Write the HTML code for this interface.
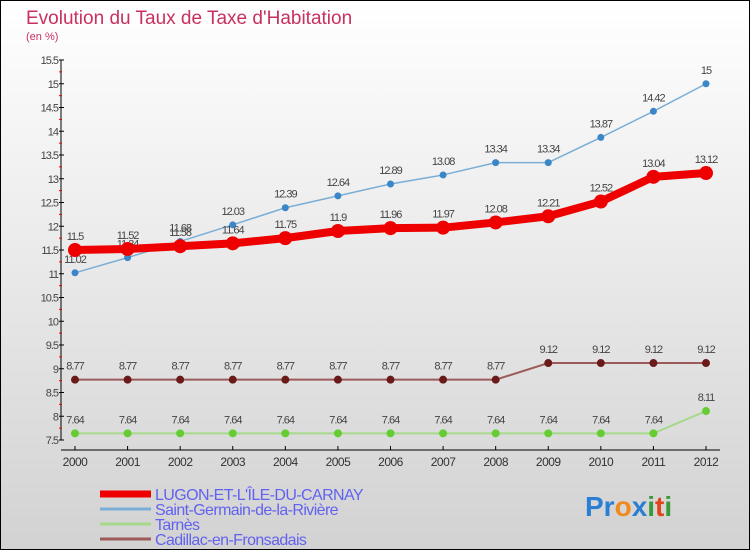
<!DOCTYPE html>
<html><head><meta charset="utf-8"><style>
body{margin:0;width:750px;height:550px;overflow:hidden;}
svg{display:block;font-family:"Liberation Sans",sans-serif;}
</style></head><body>
<svg width="750" height="550">
<defs><linearGradient id="bg" x1="0" y1="0" x2="0" y2="1"><stop offset="0" stop-color="#ffffff"/><stop offset="1" stop-color="#d2d2d2"/></linearGradient></defs>
<rect x="0.5" y="0.5" width="749" height="549" fill="url(#bg)" stroke="#000"/>
<text x="26" y="24" font-size="19" fill="#c8315f">Evolution du Taux de Taxe d'Habitation</text>
<text x="26" y="40" font-size="11" fill="#c8315f">(en %)</text>
<g id="axes"></g>
<g id="series"></g>
<g id="legend"></g>
<text x="585" y="516" font-size="28" font-weight="bold"><tspan fill="#2a7fd4">Pr</tspan><tspan fill="#f08a1c">o</tspan><tspan fill="#2a7fd4">x</tspan><tspan fill="#3a9a3a">i</tspan><tspan fill="#e0451c">t</tspan><tspan fill="#3a9a3a">i</tspan></text>
</svg>
<script>
const years=[2000,2001,2002,2003,2004,2005,2006,2007,2008,2009,2010,2011,2012];
const yTicks=[7.5,8,8.5,9,9.5,10,10.5,11,11.5,12,12.5,13,13.5,14,14.5,15,15.5];
const lugon=[11.5,11.52,11.58,11.64,11.75,11.9,11.96,11.97,12.08,12.21,12.52,13.04,13.12];
const saintGermain=[11.02,11.34,11.68,12.03,12.39,12.64,12.89,13.08,13.34,13.34,13.87,14.42,15];
const tarnes=[7.64,7.64,7.64,7.64,7.64,7.64,7.64,7.64,7.64,7.64,7.64,7.64,8.11];
const cadillac=[8.77,8.77,8.77,8.77,8.77,8.77,8.77,8.77,8.77,9.12,9.12,9.12,9.12];
const seriesNames=["LUGON-ET-L'ÎLE-DU-CARNAY","Saint-Germain-de-la-Rivière","Tarnès","Cadillac-en-Fronsadais"];

const NS="http://www.w3.org/2000/svg";
const x=i=>75+i*(706-75)/12;
const y=v=>60+(15.5-v)*47.5;
function mk(tag,attrs,parent,txt){const e=document.createElementNS(NS,tag);for(const k in attrs)e.setAttribute(k,attrs[k]);if(txt!==undefined)e.textContent=txt;parent.appendChild(e);return e;}
const ax=document.getElementById('axes');
let e=mk('line',{x1:61,y1:60,x2:61,y2:440,stroke:'#000'},ax);


e=mk('line',{x1:61,y1:450,x2:720,y2:450,stroke:'#000'},ax);


yTicks.forEach((t,i)=>{
  mk('line',{x1:59,y1:y(t),x2:64,y2:y(t),stroke:'#000'},ax);
  if(i<yTicks.length-1)mk('line',{x1:59,y1:y(t+0.25),x2:62,y2:y(t+0.25),stroke:'#e00'},ax);
  const l=mk('text',{x:58,y:y(t)+4,'font-size':11,'text-anchor':'end',fill:'#444','letter-spacing':'-1'},ax,String(t));
  
  
});
years.forEach((yr,i)=>{
  mk('line',{x1:x(i),y1:446,x2:x(i),y2:450,stroke:'#000'},ax);
  const l=mk('text',{x:x(i),y:466,'font-size':12,'text-anchor':'middle',fill:'#333','letter-spacing':'-0.5'},ax,String(yr));
  
  
});
const sg=document.getElementById('series');
function draw(vals,color,w,dotFill,r,name){
  const g=mk('g',{},sg);
  
  
  mk('polyline',{points:vals.map((v,i)=>x(i)+','+y(v)).join(' '),fill:'none',stroke:color,'stroke-width':w,'stroke-linejoin':'round'},g);
  vals.forEach((v,i)=>{
    const c=mk('circle',{cx:x(i),cy:y(v),r:r,fill:dotFill},g);
    
    
    const t=mk('text',{x:x(i),y:y(v)-10,'font-size':11,'text-anchor':'middle',fill:'#444','letter-spacing':'-1'},g,String(v));
    
    
  });
}
draw(tarnes,'#a6d98a',2,'#66cc33',4,'tarnes-series');
draw(cadillac,'#9c5a5a',2,'#6b1a1a',4,'cadillac-series');
draw(saintGermain,'#7aaed6',1.5,'#3a86c8',3.5,'saint-germain-series');
draw(lugon,'#ee0000',8,'#ee0000',7,'lugon-series');
const lg=document.getElementById('legend');
const lcol=['#ee0000','#7aaed6','#a6d98a','#9c5a5a'],lw=[7,3,3,3];
seriesNames.forEach((n,i)=>{
  const g=mk('g',{},lg);
  
  
  const yy=494+i*15;
  mk('line',{x1:100,y1:yy,x2:151,y2:yy,stroke:lcol[i],'stroke-width':lw[i]},g);
  mk('text',{x:155,y:yy+6,'font-size':16,fill:'#6262f0','letter-spacing':'-0.6'},g,n);
});
</script>
</body></html>
